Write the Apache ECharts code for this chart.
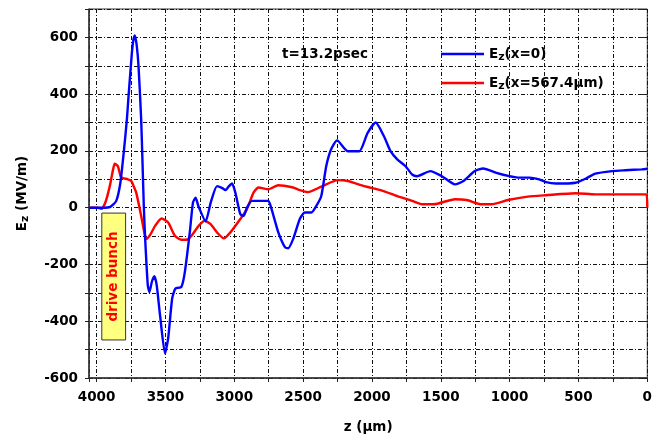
<!DOCTYPE html>
<html>
<head>
<meta charset="utf-8">
<script src="https://cdn.jsdelivr.net/npm/echarts@6/dist/echarts.min.js"></script>
<style>
  html, body { margin: 0; padding: 0; background: #fff; }
  #chart { width: 655px; height: 439px; }
</style>
</head>
<body>
<div id="chart"></div>
<script>
// Longitudinal field E_z on axis (x=0), sampled along z (um)
const blueZ = [4055, 3960, 3900, 3857, 3827, 3803, 3780, 3768, 3744, 3733, 3722, 3708, 3695, 3676, 3667, 3657, 3647, 3628, 3616, 3598, 3580, 3563, 3539, 3503, 3480, 3451, 3427, 3384, 3359, 3323, 3300, 3281, 3260, 3208, 3170, 3125, 3090, 3064, 3040, 3016, 2992, 2956, 2932, 2908, 2872, 2800, 2752, 2729, 2680, 2632, 2608, 2572, 2524, 2488, 2440, 2404, 2368, 2332, 2297, 2253, 2176, 2092, 2032, 1973, 1912, 1865, 1816, 1756, 1708, 1672, 1576, 1492, 1397, 1336, 1253, 1192, 1096, 1001, 940, 857, 785, 736, 664, 520, 449, 377, 256, 160, 40, 0];
const blueE = [0, 0, 3, 24, 88, 193, 310, 391, 543, 590, 607, 570, 496, 310, 170, 6, -110, -274, -297, -260, -241, -274, -379, -513, -460, -320, -285, -279, -227, -87, 18, 35, 5, -48, 20, 76, 70, 62, 75, 85, 53, -23, -29, 0, 24, 24, 24, -5, -87, -139, -143, -110, -40, -17, -17, 6, 41, 146, 205, 237, 199, 199, 263, 300, 251, 199, 170, 146, 117, 111, 129, 111, 82, 94, 129, 138, 123, 111, 106, 106, 100, 90, 85, 88, 102, 120, 129, 132, 135, 137];

// E_z off axis (x=567.4 um)
const redZ = [4055, 3990, 3964, 3935, 3904, 3880, 3868, 3845, 3825, 3809, 3773, 3748, 3730, 3712, 3676, 3650, 3636, 3610, 3575, 3528, 3480, 3431, 3384, 3340, 3312, 3260, 3215, 3172, 3120, 3076, 3028, 2956, 2908, 2860, 2824, 2752, 2680, 2572, 2536, 2464, 2368, 2248, 2176, 2056, 1937, 1816, 1708, 1636, 1552, 1397, 1312, 1204, 1132, 1012, 868, 736, 520, 377, 6, 0];
const redE = [0, 0, -4, 20, 76, 135, 155, 146, 110, 104, 100, 94, 75, 53, -29, -95, -110, -95, -64, -38, -52, -99, -113, -112, -100, -65, -46, -58, -90, -108, -87, -40, -5, 53, 71, 65, 79, 71, 64, 55, 74, 97, 94, 76, 62, 41, 24, 12, 12, 30, 27, 12, 12, 27, 39, 44, 51, 47, 47, 0];

// Drive bunch extent: z range and field range it spans on the plot
const bunchZ = [3962, 3789];
const bunchE = [-19, -466];

const seriesNames = ['Ez(x=0)', 'Ez(x=567.4\u00b5m)'];
const legendText = ['{m|E}{s|z}{m|(x=0)}', '{m|E}{s|z}{m|(x=567.4\u00b5m)}'];
const timeLabel = 't=13.2psec';
const bunchLabel = 'drive bunch';

const zip = (xs, ys) => xs.map((x, i) => [x, ys[i]]);

const FONT = '"DejaVu Sans", sans-serif';
const FS = 13.5;
const gridLine = { color: '#111', width: 1, type: [4, 2, 1, 2] };
const richText = {
  m: { fontFamily: FONT, fontWeight: 'bold', fontSize: FS, color: '#000', lineHeight: 18 },
  s: { fontFamily: FONT, fontWeight: 'bold', fontSize: 11, color: '#000', lineHeight: 11, padding: [7, 0, 0, 0] }
};

const chart = echarts.init(document.getElementById('chart'), null, { renderer: 'canvas' });
chart.setOption({
  animation: false,
  backgroundColor: '#fff',
  title: {
    text: timeLabel, left: 277, top: 42,
    textStyle: { fontFamily: FONT, fontWeight: 'bold', fontSize: FS, color: '#000' }
  },
  legend: {
    orient: 'vertical', left: 436, top: 40,
    icon: 'rect', itemWidth: 43, itemHeight: 2.5, itemGap: 11,
    data: seriesNames,
    formatter: name => legendText[seriesNames.indexOf(name)],
    textStyle: { rich: richText, fontFamily: FONT, fontWeight: 'bold', fontSize: FS, color: '#000' }
  },
  grid: {
    left: 89, right: 3, top: 9, bottom: 59,
    show: true, borderColor: '#333', borderWidth: 1, backgroundColor: 'transparent'
  },
  xAxis: {
    type: 'value', inverse: true, min: 0, max: 4055, interval: 250,
    name: '{m|z (\u00b5m)}', nameLocation: 'middle', nameGap: 40,
    nameTextStyle: { rich: richText },
    axisLine: { onZero: false, lineStyle: { color: '#333', width: 1.5 } },
    axisTick: { show: true, length: 4, lineStyle: { color: '#222' } },
    axisLabel: {
      margin: 12, color: '#000', fontFamily: FONT, fontWeight: 'bold', fontSize: FS,
      formatter: v => (v % 500 === 0 ? String(v) : '')
    },
    splitLine: { show: true, lineStyle: gridLine }
  },
  yAxis: [{
    type: 'value', min: -600, max: 700, interval: 100,
    name: '{m|E}{s|z}{m| (MV/m)}', nameLocation: 'middle', nameGap: 58, nameRotate: 90,
    nameTextStyle: { rich: richText },
    axisLine: { show: true, onZero: false, lineStyle: { color: '#333', width: 1.5 } },
    axisTick: { show: true, length: 4, lineStyle: { color: '#222' } },
    axisLabel: {
      margin: 11, color: '#000', fontFamily: FONT, fontWeight: 'bold', fontSize: FS,
      formatter: v => (v % 200 === 0 ? String(v) : '')
    },
    splitLine: { show: true, lineStyle: gridLine }
  }, {
    // longer ticks at the labelled values
    type: 'value', min: -600, max: 700, interval: 200, position: 'left',
    axisLine: { show: false }, axisLabel: { show: false }, splitLine: { show: false },
    axisTick: { show: true, length: 8, lineStyle: { color: '#222' } }
  }],
  series: [{
    name: seriesNames[0], type: 'line', data: zip(blueZ, blueE),
    showSymbol: false, symbol: 'none', smooth: 0.2,
    lineStyle: { color: '#0000ff', width: 2.4 }, itemStyle: { color: '#0000ff' },
    z: 3
  }, {
    name: seriesNames[1], type: 'line', data: zip(redZ, redE),
    showSymbol: false, symbol: 'none', smooth: 0.2,
    lineStyle: { color: '#ff0000', width: 2.4 }, itemStyle: { color: '#ff0000' },
    z: 2,
    markArea: {
      silent: true,
      itemStyle: { color: '#ffff80', opacity: 1, borderColor: '#333', borderWidth: 1 },
      label: {
        show: true, position: 'inside', rotate: 90, color: '#ff0000',
        fontFamily: FONT, fontWeight: 'bold', fontSize: FS
      },
      data: [[
        { name: bunchLabel, coord: [bunchZ[0], bunchE[0]] },
        { coord: [bunchZ[1], bunchE[1]] }
      ]]
    }
  }]
});
</script>
</body>
</html>
